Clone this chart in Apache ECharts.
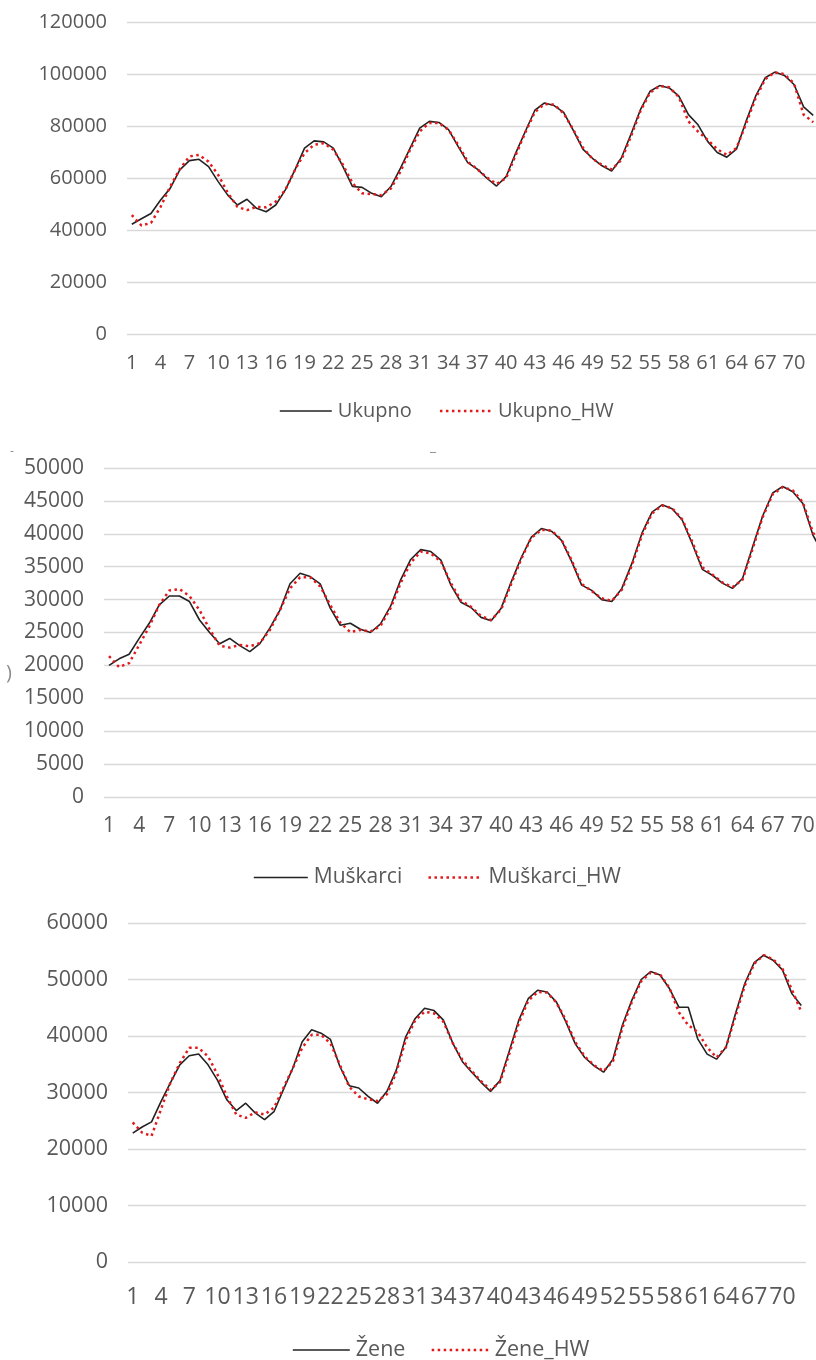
<!DOCTYPE html>
<html>
<head>
<meta charset="utf-8">
<script src="https://cdn.jsdelivr.net/npm/echarts@6/dist/echarts.min.js"></script>
<style>
html,body{margin:0;padding:0;background:#fff;}
#c{width:816px;height:1360px;}
</style>
</head>
<body>
<div id="c"></div>
<script>
const periods = ['1','2','3','4','5','6','7','8','9','10','11','12','13','14','15','16','17','18','19','20','21','22','23','24','25','26','27','28','29','30','31','32','33','34','35','36','37','38','39','40','41','42','43','44','45','46','47','48','49','50','51','52','53','54','55','56','57','58','59','60','61','62','63','64','65','66','67','68','69','70','71','72'];

const ukupno = [42300,44400,46400,51600,56100,63200,66800,67300,64500,58700,53500,49700,51900,48400,47100,49700,55500,63200,71600,74400,74000,71600,64500,56800,56500,54200,52900,56800,63900,71600,79300,81900,81500,78700,72300,66000,63500,60000,57000,60600,69700,78000,86200,89000,88000,85400,78400,71200,67700,64800,62800,67700,76800,86400,93500,95700,94800,91600,84500,80600,74200,69900,68100,71200,81900,91600,98700,100900,99600,96100,87500,84200];
const ukupnoHW = [45800,41800,42800,49000,56800,63500,68400,69000,66400,61300,54400,49000,47700,49000,48800,51000,55500,63200,69700,72900,73500,71000,65200,58100,54200,53900,53500,56100,62600,71000,78000,81300,81300,78700,72900,66400,63500,60300,57800,60000,68900,77600,85500,88600,88400,85000,78800,71800,67500,65100,63400,67000,76000,85900,93000,95500,95100,91300,81900,78000,74800,71200,69000,71600,81000,90800,98200,100800,100100,96500,84500,81600];

const muskarci = [20000,21000,21700,24100,26400,29200,30550,30550,29700,26900,25000,23300,24100,23000,22100,23300,25700,28400,32400,34000,33500,32400,28700,26100,26400,25500,25000,26300,29000,33000,36100,37600,37300,36000,32200,29600,28800,27300,26800,28700,32700,36400,39500,40800,40400,39000,35800,32200,31400,30000,29700,31700,35500,40100,43300,44400,43800,42100,38500,34600,33700,32500,31700,33200,38000,42700,46200,47200,46400,44600,39800,37000];
const muskarciHW = [21400,19750,20350,23100,25900,29200,31400,31600,30550,28400,25500,23000,22700,23100,22900,23400,25400,28400,31700,33400,33400,32000,29200,26500,25050,25400,25150,26000,28700,32500,35600,37300,37000,35800,32500,29850,28900,27500,26900,28500,32400,36200,39400,40600,40500,39100,36000,32400,31300,30200,29800,31500,35200,39800,43100,44300,43900,42200,38800,34900,33800,32600,31900,33000,37700,42500,46000,47100,46600,44800,40200,38000];

const zene = [22800,23900,24800,28400,31700,34900,36500,36800,34900,32200,28700,26800,28100,26400,25200,26600,30500,34300,39000,41100,40500,39400,34600,31200,30800,29300,28100,30200,34000,39900,43100,44900,44500,42800,38700,35500,33600,31800,30200,32100,37400,42800,46600,48100,47800,46000,42500,38600,36200,34700,33600,35900,41900,46300,50000,51400,50800,48400,45100,45100,39500,36800,35900,38000,43900,49300,53000,54300,53400,51700,47500,45400];
const zeneHW = [24700,22900,22300,27000,31700,35200,37900,37900,36400,33200,29300,26100,25500,26500,26100,27300,30800,34300,37900,40200,40200,38700,34900,31000,29300,28800,28500,29700,33600,39300,42800,44300,44000,42500,38700,35800,33800,32000,30500,31800,36900,42300,46200,47800,47700,45900,42800,38900,36400,34800,33800,35500,41400,46000,49700,51200,50900,48500,44200,41900,40700,38000,36200,38000,43400,48900,52800,54300,53600,51900,48200,44300];

const FONT = '"Open Sans", "Liberation Sans", sans-serif';
const TXT = '#595959';
const GRIDC = '#d9d9d9';
const BLACK = '#222222';
const RED = '#e3191c';
const DOT = [2.5, 3.5];

const panels = [
  {names:['Ukupno','Ukupno_HW'], a:ukupno, b:ukupnoHW, left:127, top:22.5, width:691, height:311.5, max:120000, interval:20000, fs:20, xfs:20, xmargin:19, legLeft:274, legTop:396, iw:52, gap:27},
  {names:['Muškarci','Muškarci_HW'], a:muskarci, b:muskarciHW, left:104, top:468, width:724, height:329, max:50000, interval:5000, fs:21, xfs:21, xmargin:19, legLeft:248, legTop:862, iw:54, gap:25},
  {names:['Žene','Žene_HW'], a:zene, b:zeneHW, left:128, top:923, width:678, height:339, max:60000, interval:10000, fs:21.5, xfs:23, xmargin:24, legLeft:287, legTop:1334, iw:57, gap:25}
];

const option = {
  animation:false,
  backgroundColor:'#ffffff',
  grid:[], xAxis:[], yAxis:[], legend:[], series:[],
  graphic:[
    {type:'text', left:10, top:446, style:{text:'-', fill:'#8c8c8c', font:'12px '+FONT}},
    {type:'text', left:6, top:663, style:{text:')', fill:'#8c8c8c', font:'20px '+FONT}},
    {type:'text', left:430, top:440, style:{text:'_', fill:'#8c8c8c', font:'14px '+FONT}}
  ]
};

panels.forEach((p, k) => {
  option.grid.push({left:p.left, top:p.top, width:p.width, height:p.height, containLabel:false, outerBoundsMode:'none'});
  option.xAxis.push({
    type:'category', gridIndex:k, data:periods, boundaryGap:true,
    axisLine:{show:false}, axisTick:{show:false},
    axisLabel:{interval:2, color:TXT, fontFamily:FONT, fontSize:p.xfs, margin:p.xmargin, hideOverlap:false}
  });
  option.yAxis.push({
    type:'value', gridIndex:k, min:0, max:p.max, interval:p.interval,
    axisLine:{show:false}, axisTick:{show:false},
    splitLine:{lineStyle:{color:GRIDC, width:1.3}},
    axisLabel:{color:TXT, fontFamily:FONT, fontSize:p.fs, margin:20, formatter:v => String(v)}
  });
  option.legend.push({
    left:p.legLeft, top:p.legTop, itemWidth:p.iw, itemHeight:14, itemGap:p.gap,
    textStyle:{color:TXT, fontFamily:FONT, fontSize:p.fs, padding:[0,0,0,1]},
    data:[
      {name:p.names[0], lineStyle:{width:1.6}, itemStyle:{opacity:0}},
      {name:p.names[1], lineStyle:{width:2.5}, itemStyle:{opacity:0}}
    ]
  });
  option.series.push({
    type:'line', name:p.names[0], xAxisIndex:k, yAxisIndex:k, data:p.a,
    symbol:'none', lineStyle:{color:BLACK, width:1.6}, itemStyle:{color:BLACK}, z:2
  });
  option.series.push({
    type:'line', name:p.names[1], xAxisIndex:k, yAxisIndex:k, data:p.b,
    symbol:'none', lineStyle:{color:RED, width:2.5, type:DOT}, itemStyle:{color:RED}, z:3
  });
});

const chart = echarts.init(document.getElementById('c'), null, {renderer:'canvas'});
chart.setOption(option);
</script>
</body>
</html>
